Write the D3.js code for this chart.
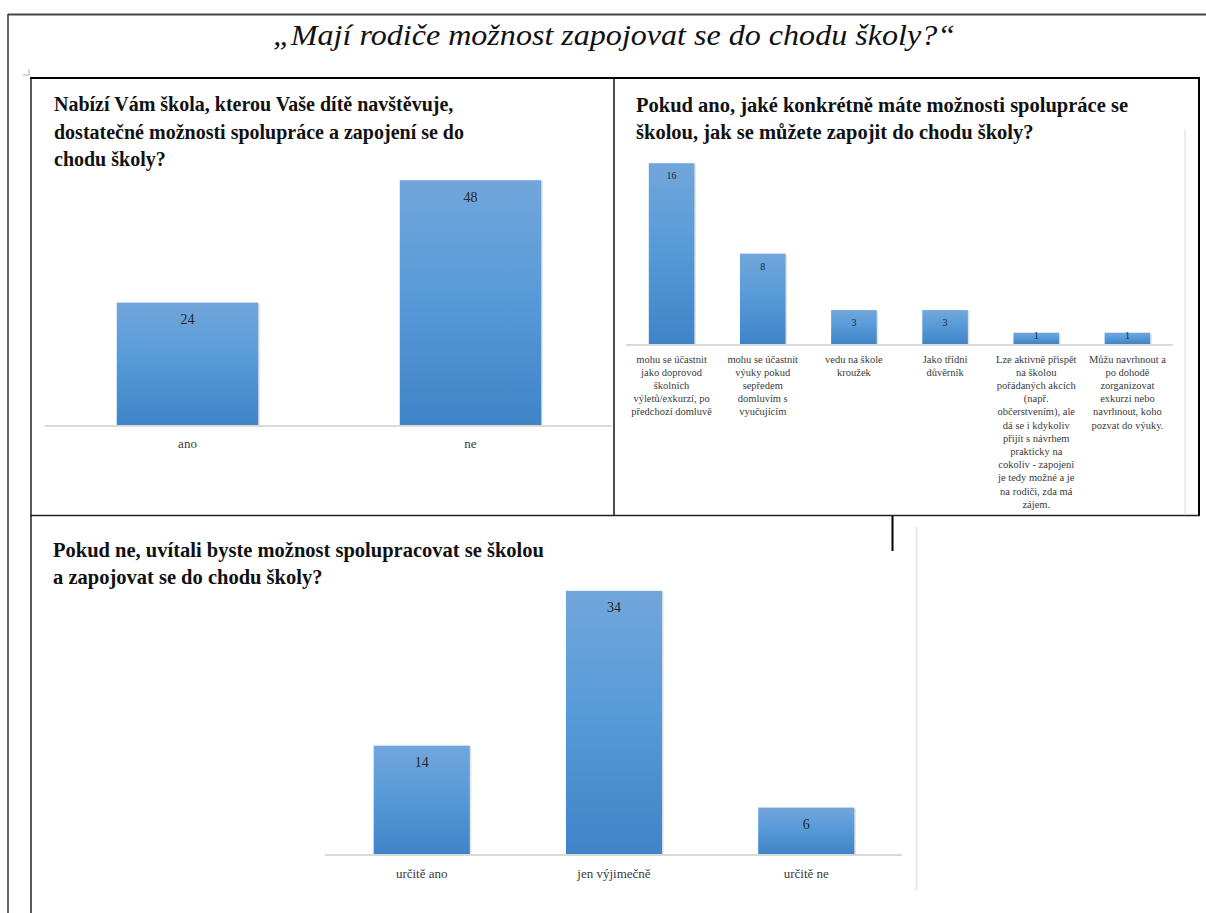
<!DOCTYPE html>
<html>
<head>
<meta charset="utf-8">
<script src="https://cdn.jsdelivr.net/npm/d3@7"></script>
<style>
  html, body { margin: 0; padding: 0; background: #fff; }
  svg { display: block; }
  text { font-family: "Liberation Serif", "Times New Roman", serif; }
</style>
</head>
<body>
<svg id="chart" width="1206" height="913"></svg>
<script>
// ---------------- DATA ----------------
const mainTitle = "„Mají rodiče možnost zapojovat se do chodu školy?“";

const title1Lines = [
  "Nabízí Vám škola, kterou Vaše dítě navštěvuje,",
  "dostatečné možnosti spolupráce a zapojení se do",
  "chodu školy?"
];
const categories1 = ["ano", "ne"];
const values1 = [24, 48];

const title2Lines = [
  "Pokud ano, jaké konkrétně máte možnosti spolupráce se",
  "školou, jak se můžete zapojit do chodu školy?"
];
const categories2 = [
  ["mohu se účastnit", "jako doprovod", "školních", "výletů/exkurzí, po", "předchozí domluvě"],
  ["mohu se účastnit", "výuky pokud", "sepředem", "domluvím s", "vyučujícím"],
  ["vedu na škole", "kroužek"],
  ["Jako třídní", "důvěrník"],
  ["Lze aktivně přispět", "na školou", "pořádaných akcích", "(např.", "občerstvením), ale", "dá se i kdykoliv", "přijít s návrhem", "prakticky na", "cokoliv - zapojení", "je tedy možné a je", "na rodiči, zda má", "zájem."],
  ["Můžu navrhnout a", "po dohodě", "zorganizovat", "exkurzi nebo", "navrhnout, koho", "pozvat do výuky."]
];
const values2 = [16, 8, 3, 3, 1, 1];

const title3Lines = [
  "Pokud ne, uvítali byste možnost spolupracovat se školou",
  "a zapojovat se do chodu školy?"
];
const categories3 = ["určitě ano", "jen výjimečně", "určitě ne"];
const values3 = [14, 34, 6];

// ---------------- DRAWING ----------------
const svg = d3.select("#chart");

const defs = svg.append("defs");
const grad = defs.append("linearGradient")
  .attr("id", "barGrad").attr("x1", 0).attr("y1", 0).attr("x2", 0).attr("y2", 1);
grad.append("stop").attr("offset", "0%").attr("stop-color", "#72a6db");
grad.append("stop").attr("offset", "45%").attr("stop-color", "#589bd9");
grad.append("stop").attr("offset", "100%").attr("stop-color", "#3f84c7");

// page frame / table lines
const frame = svg.append("g");
function line(x1, y1, x2, y2, color, w) {
  frame.append("line").attr("x1", x1).attr("y1", y1).attr("x2", x2).attr("y2", y2)
    .attr("stroke", color).attr("stroke-width", w);
}
line(8, 14.5, 1206, 14.5, "#444", 2);
line(8, 14, 8, 913, "#333", 1.5);
// small corner mark
line(23, 75, 29, 75, "#aaa", 1);
line(29, 69, 29, 75, "#aaa", 1);
// table
line(30, 78, 1200, 78, "#000", 2);
line(31, 78, 31, 913, "#222", 1.5);
line(1199, 78, 1199, 516, "#000", 2);
line(614, 78, 614, 516, "#111", 1.5);
line(30, 515.5, 1200, 515.5, "#222", 1.5);
line(892.5, 516, 892.5, 551, "#000", 2);
// faint chart borders
line(1185, 130, 1185, 515, "#e6e6e6", 1.5);
line(916.5, 527, 916.5, 891, "#e6e6e6", 1.5);

// main title
svg.append("text")
  .attr("x", 614).attr("y", 45)
  .attr("text-anchor", "middle")
  .attr("font-style", "italic")
  .attr("font-size", 30)
  .attr("fill", "#111")
  .attr("textLength", 682)
  .attr("lengthAdjust", "spacingAndGlyphs")
  .text(mainTitle);

function drawTitle(lines, x, y0, lh, size) {
  const g = svg.append("g");
  lines.forEach((t, i) => {
    g.append("text").attr("x", x).attr("y", y0 + i * lh)
      .attr("font-weight", "bold").attr("font-size", size)
      .attr("fill", "#111").text(t);
  });
}

function drawBars(cfg) {
  const { cats, vals, x0, x1, base, unit, maxV, valSize, catSize, catY, catLH, valOffset, axisX0, axisX1 } = cfg;
  const keys = cats.map((c, i) => i);
  const x = d3.scaleBand().domain(keys).range([x0, x1]).paddingInner(0.5).paddingOuter(0.25);
  const y = d3.scaleLinear().domain([0, maxV]).range([base, base - maxV * unit]);
  const g = svg.append("g");

  // shadow
  g.selectAll("rect.sh").data(vals).join("rect")
    .attr("x", (d, i) => x(i) + 1.5).attr("y", d => y(d) + 1)
    .attr("width", x.bandwidth()).attr("height", d => base - y(d))
    .attr("fill", "#cfcfcf").attr("opacity", 0.6);
  g.selectAll("rect.bar").data(vals).join("rect")
    .attr("class", "bar")
    .attr("x", (d, i) => x(i)).attr("y", d => y(d))
    .attr("width", x.bandwidth()).attr("height", d => base - y(d))
    .attr("fill", "url(#barGrad)");

  // axis
  const axis = d3.axisBottom(x).tickSize(0).tickFormat(() => "");
  const ag = g.append("g").attr("transform", `translate(0,${base})`).call(axis);
  ag.select(".domain").remove();
  g.append("line").attr("x1", axisX0).attr("x2", axisX1).attr("y1", base + 1).attr("y2", base + 1)
    .attr("stroke", "#d9d9d9").attr("stroke-width", 2);

  // category labels
  cats.forEach((c, i) => {
    const lines = Array.isArray(c) ? c : [c];
    lines.forEach((t, j) => {
      g.append("text")
        .attr("x", x(i) + x.bandwidth() / 2)
        .attr("y", catY + j * catLH)
        .attr("text-anchor", "middle")
        .attr("dominant-baseline", "central")
        .attr("font-size", catSize)
        .attr("fill", "#3a3a3a")
        .text(t);
    });
  });

  // value labels
  g.selectAll("text.val").data(vals).join("text")
    .attr("class", "val")
    .attr("x", (d, i) => x(i) + x.bandwidth() / 2)
    .attr("y", d => Math.min(y(d) + valOffset, base - 9))
    .attr("text-anchor", "middle")
    .attr("dominant-baseline", "central")
    .attr("font-size", valSize)
    .attr("fill", "#262626")
    .text(d => d);
}

// Chart 1
drawTitle(title1Lines, 54, 111, 27.5, 20);
drawBars({ cats: categories1, vals: values1, x0: 46, x1: 612, base: 425, unit: 5.1, maxV: 60,
  valSize: 14, catSize: 13, catY: 443, catLH: 14, valOffset: 17, axisX0: 45, axisX1: 612 });

// Chart 2
drawTitle(title2Lines, 636, 112, 26.5, 20.5);
drawBars({ cats: categories2, vals: values2, x0: 626, x1: 1173, base: 344, unit: 11.3, maxV: 18,
  valSize: 10, catSize: 10.5, catY: 359, catLH: 13.2, valOffset: 12.5, axisX0: 626, axisX1: 1173 });

// Chart 3
drawTitle(title3Lines, 53, 557, 27, 20.5);
drawBars({ cats: categories3, vals: values3, x0: 325.6, x1: 902.4, base: 854, unit: 7.74, maxV: 40,
  valSize: 14, catSize: 13, catY: 873, catLH: 14, valOffset: 17, axisX0: 325, axisX1: 902 });
</script>
</body>
</html>
